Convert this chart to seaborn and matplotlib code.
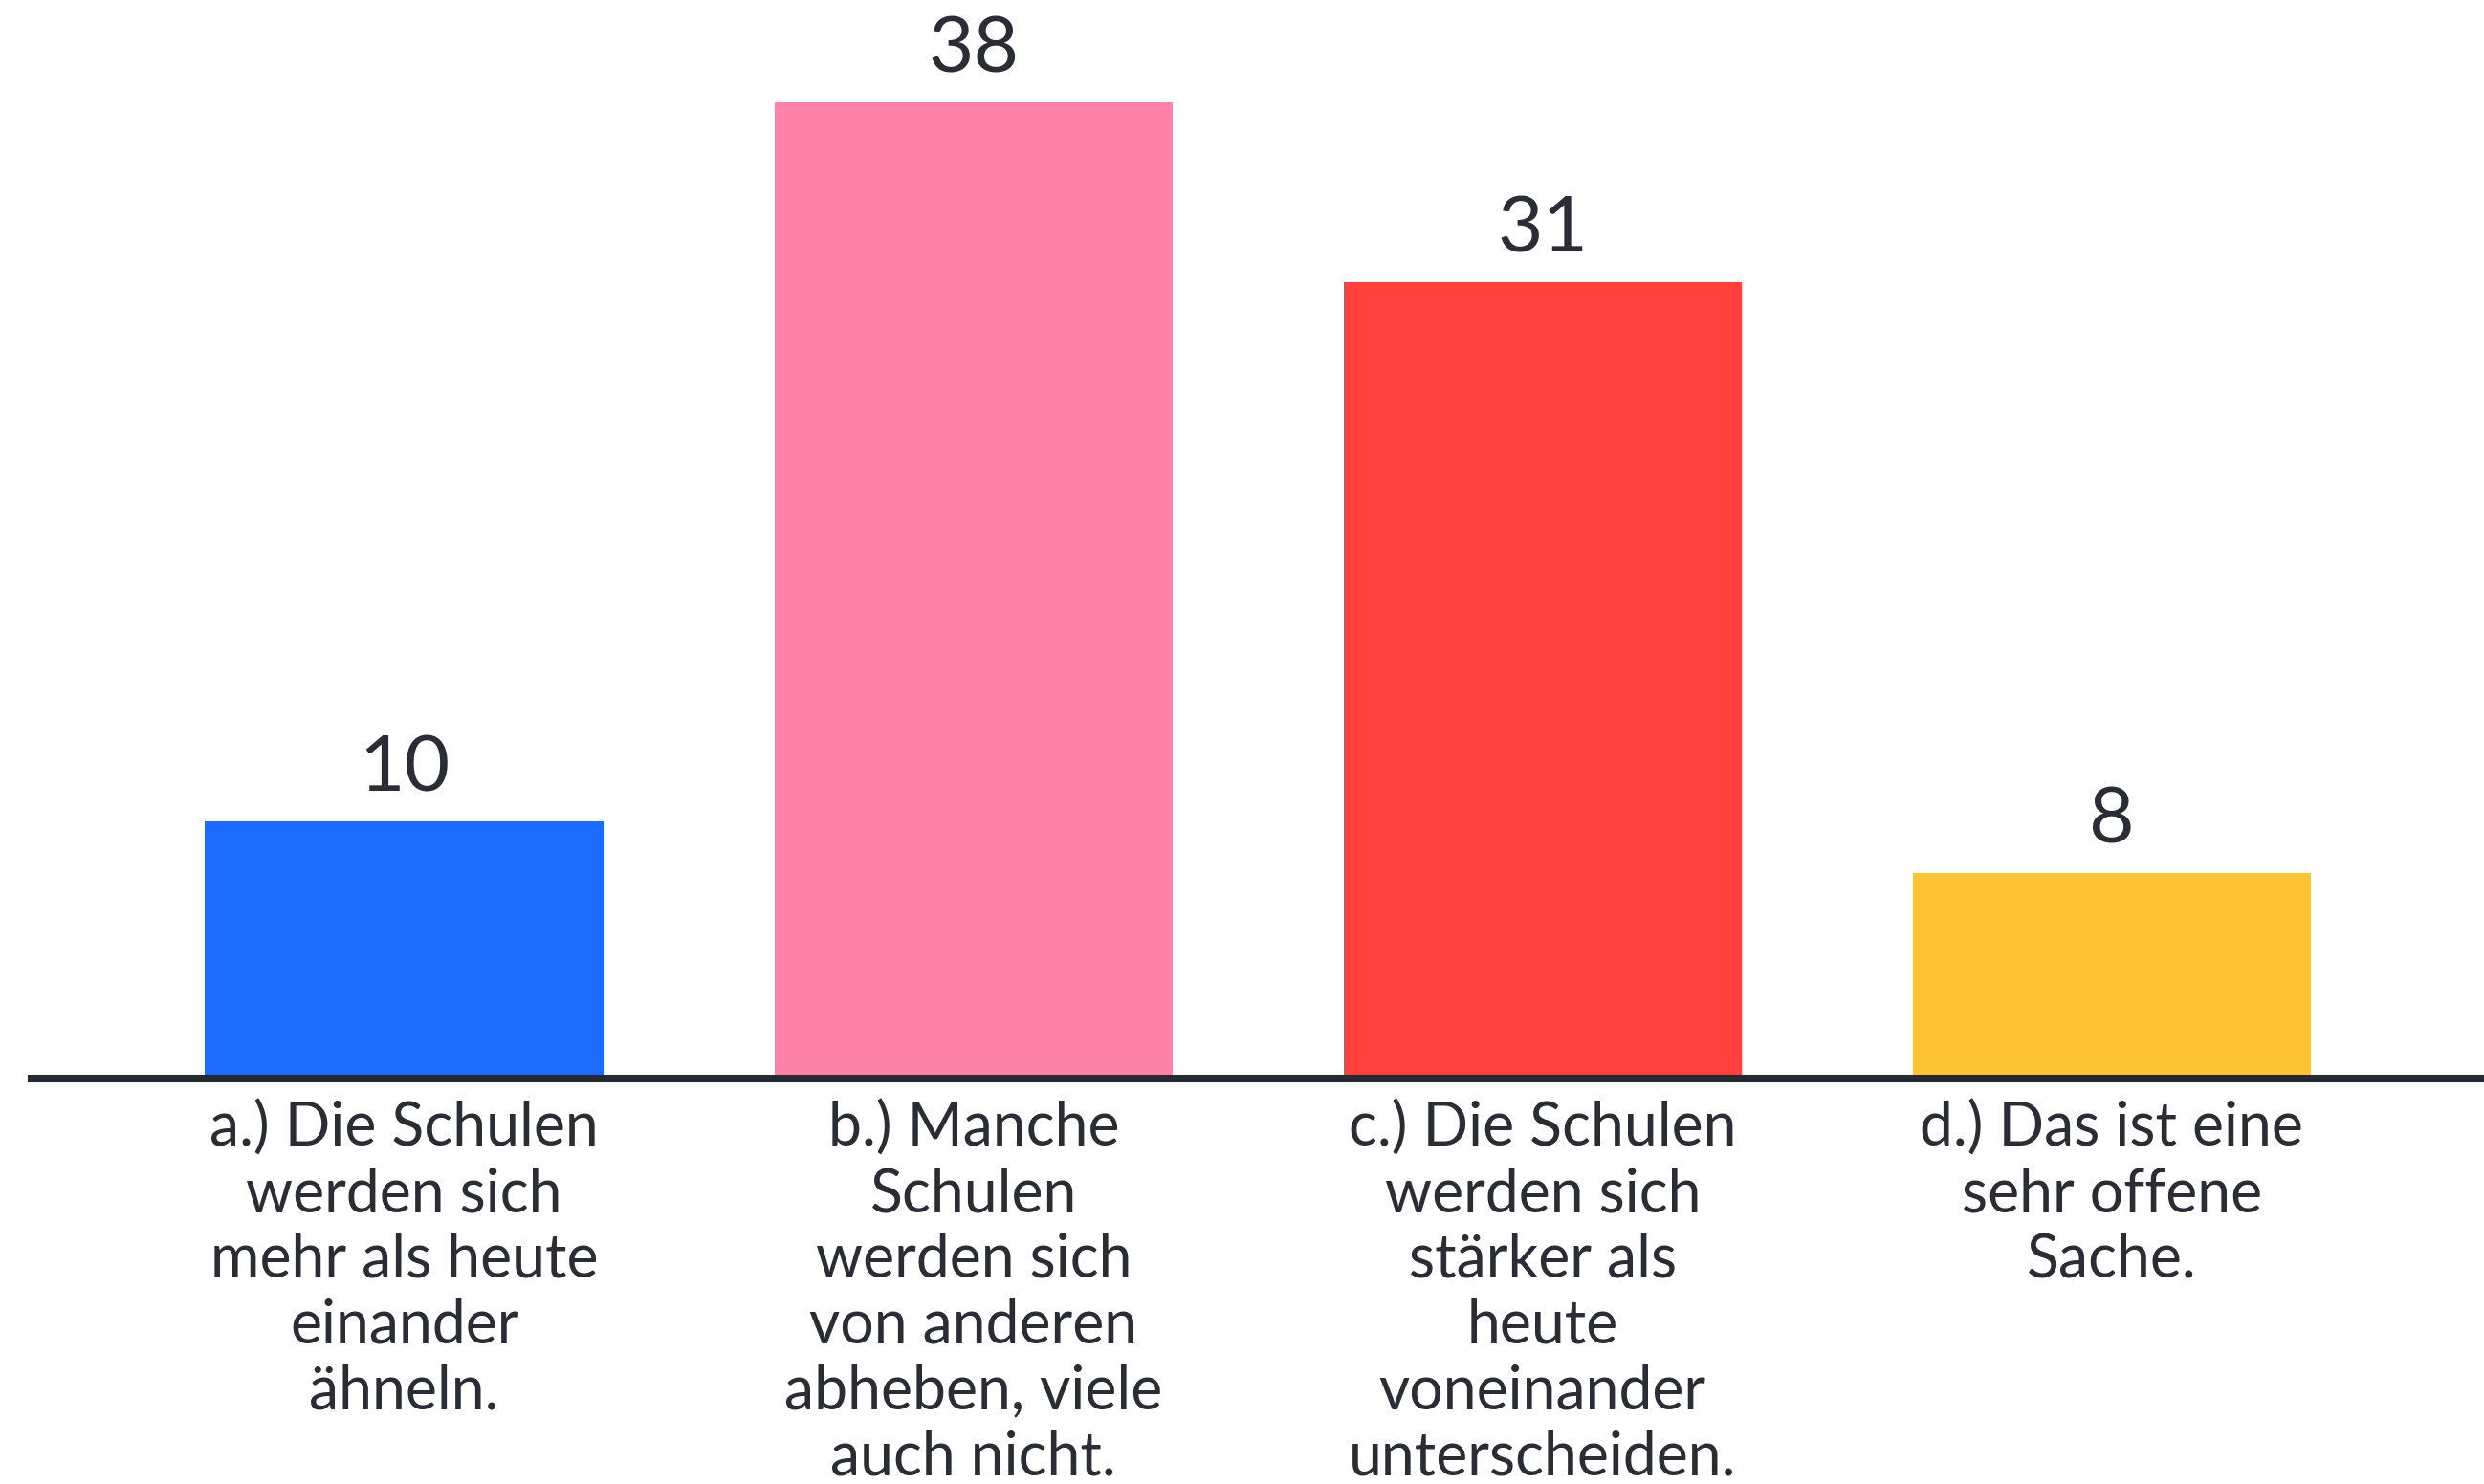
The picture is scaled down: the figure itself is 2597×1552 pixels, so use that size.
"""
Bar chart: Wie werden sich die Schulen entwickeln?
"""

import matplotlib.pyplot as plt
import seaborn as sns
import pandas as pd

plt.switch_backend('Agg')

# Data
categories = [
    "a.) Die Schulen\nwerden sich\nmehr als heute\neinander\nähneln.",
    "b.) Manche\nSchulen\nwerden sich\nvon anderen\nabheben, viele\nauch nicht.",
    "c.) Die Schulen\nwerden sich\nstärker als\nheute\nvoneinander\nunterscheiden.",
    "d.) Das ist eine\nsehr offene\nSache.",
]
values = [10, 38, 31, 8]
bar_colors = ['#1e6bff', '#ff82aa', '#ff403d', '#ffc336']

TEXT_COLOR = '#2a2d34'

sns.set_theme(style='white')
plt.rcParams['font.family'] = ['Lato', 'DejaVu Sans']

df = pd.DataFrame({'category': categories, 'value': values})

fig = plt.figure(figsize=(25.97, 15.52), dpi=100)
ax = fig.add_axes([33 / 2597, 0.2732, 1 - 33 / 2597, 0.7268])

sns.barplot(
    data=df, x='category', y='value', hue='category',
    palette=bar_colors, width=0.7, legend=False, ax=ax,
    saturation=1, edgecolor='none'
)

for container in ax.containers:
    ax.bar_label(container, padding=13, fontsize=59, color=TEXT_COLOR)

ax.set_xlim(-0.655, 3.654)
ax.set_ylim(0, 42.0)

for side in ['top', 'left', 'right']:
    ax.spines[side].set_visible(False)
ax.spines['bottom'].set_linewidth(5.8)
ax.spines['bottom'].set_color('#262a31')

ax.set_yticks([])
ax.set_xlabel('')
ax.set_ylabel('')
ax.tick_params(axis='x', length=0, pad=16, labelsize=45, labelcolor=TEXT_COLOR)
for lbl in ax.get_xticklabels():
    lbl.set_multialignment('center')
    lbl.set_linespacing(1.23)

fig.savefig('out.png', dpi=100, facecolor='white')
plt.close(fig)
